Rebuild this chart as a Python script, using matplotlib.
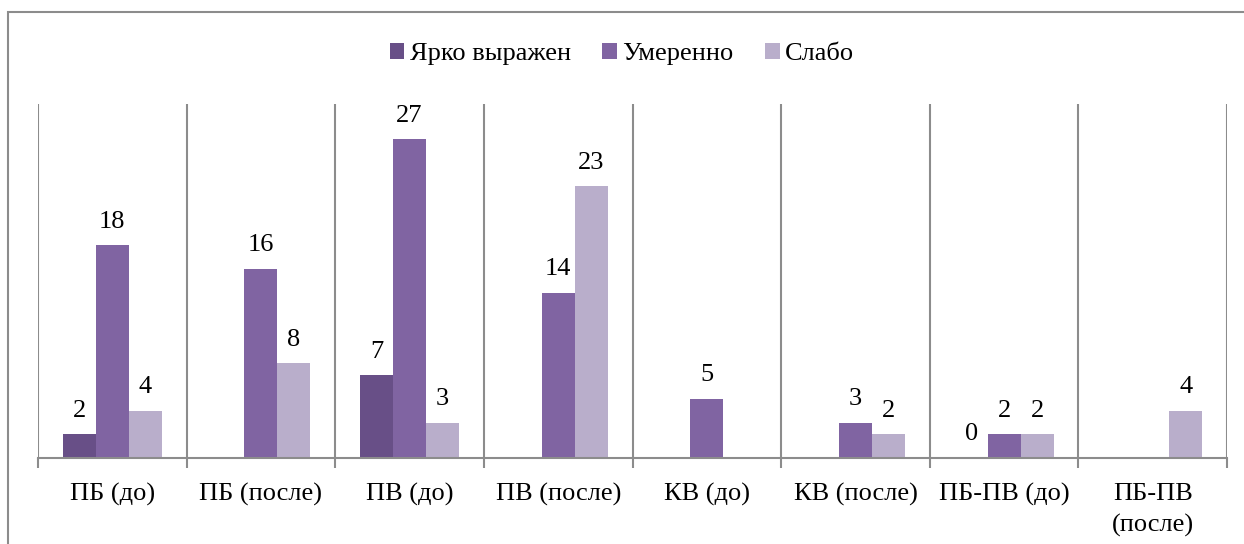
import numpy as np
import matplotlib.pyplot as plt
from matplotlib.patches import Rectangle

categories = ["ПБ (до)", "ПБ (после)", "ПВ (до)", "ПВ (после)", "КВ (до)",
              "КВ (после)", "ПБ-ПВ (до)", "ПБ-ПВ\n(после)"]
series_names = ["Ярко выражен", "Умеренно", "Слабо"]
yarko = [2, np.nan, 7, np.nan, np.nan, np.nan, 0, np.nan]
umerenno = [18, 16, 27, 14, 5, 3, 2, np.nan]
slabo = [4, 8, 3, 23, np.nan, 2, 2, 4]
colors = ["#684F87", "#8064A2", "#B9AECB"]

plt.rcParams["font.family"] = ["Liberation Serif", "DejaVu Serif"]

fig = plt.figure(figsize=(12.44, 5.44), dpi=100)
ax = fig.add_axes([38 / 1244, 1 - 458 / 544, (1227 - 38) / 1244, (458 - 103.6) / 544])

# outer border (runs off the right and bottom edges)
fig.add_artist(Rectangle((8 / 1244, -0.1), 1.2, 1 - 12.5 / 544 + 0.1,
                         transform=fig.transFigure, fill=False,
                         edgecolor="#8c8c8c", linewidth=1.5))

x = np.arange(len(categories))
w = 0.222
for i, (vals, name, c) in enumerate(zip([yarko, umerenno, slabo], series_names, colors)):
    vals = np.array(vals, dtype=float)
    mask = ~np.isnan(vals)
    bars = ax.bar(x[mask] + (i - 1) * w, vals[mask], width=w, color=c, label=name)
    ax.bar_label(bars, labels=[f"{v:g}" for v in vals[mask]], padding=9, fontsize=19)

ax.set_xlim(-0.5, len(categories) - 0.5)
ax.set_ylim(0, 30)
ax.set_yticks([])
ax.set_xticks(x)
ax.set_xticklabels(categories, fontsize=19, linespacing=1.5)
ax.set_xticks(np.arange(-0.5, len(categories)), minor=True)
ax.tick_params(axis="x", which="major", length=0, pad=18)
ax.tick_params(axis="x", which="minor", length=7, width=1.5, color="#8c8c8c", direction="out")
ax.grid(axis="x", which="minor", color="#8c8c8c", linewidth=1.5)
ax.set_axisbelow(True)
for s in ["top", "right", "left"]:
    ax.spines[s].set_visible(False)
ax.spines["bottom"].set_color("#8c8c8c")
ax.spines["bottom"].set_linewidth(1.5)

fig.legend(loc="center", bbox_to_anchor=(622 / 1244, 1 - 54 / 544), ncol=3,
           frameon=False, fontsize=19, handlelength=0.55, handleheight=0.55,
           handletextpad=0.2, columnspacing=1.2)

fig.savefig("out.png", dpi=100)
